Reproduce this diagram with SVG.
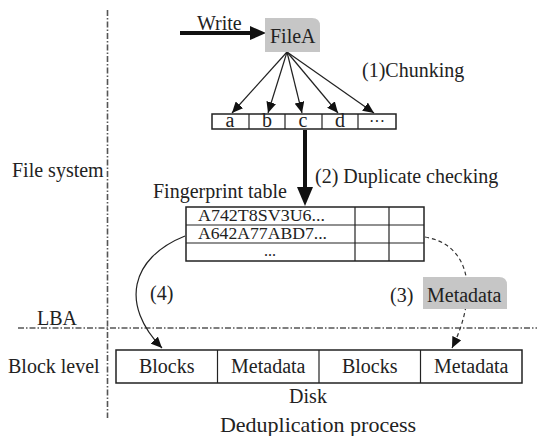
<svg xmlns="http://www.w3.org/2000/svg" width="537" height="436" viewBox="0 0 537 436">
<style>
text{font-family:"Liberation Serif","Times New Roman",serif;fill:#222;font-size:20px}
.t16{font-size:16px}
.mid{text-anchor:middle}
.box{fill:#fff;stroke:#222;stroke-width:1.5}
.ln{fill:none;stroke:#222;stroke-width:1.2}
.dash{fill:none;stroke:#333;stroke-width:1.2;stroke-dasharray:4 3}
.dd{fill:none;stroke:#555;stroke-width:1.6;stroke-dasharray:6 2 1.5 2}
.gray{fill:#c6c6c6}
</style>
<defs>
<marker id="ah" markerUnits="userSpaceOnUse" markerWidth="12" markerHeight="10" refX="11" refY="5" orient="auto"><path d="M0,0 L11,5 L0,10 z" fill="#111"/></marker>
</defs>
<g id="axes">
<line class="dd" x1="107.5" y1="10" x2="107.5" y2="418"/>
<line class="dd" x1="18" y1="328" x2="537" y2="328"/>
</g>
<g id="labels">
<text x="12" y="177">File system</text>
<text x="37" y="325">LBA</text>
<text x="8" y="373">Block level</text>
<text x="197" y="30">Write</text>
<text x="362" y="77">(1)Chunking</text>
<text x="315" y="183">(2) Duplicate checking</text>
<text x="150" y="300">(4)</text>
<text x="390" y="302">(3)</text>
<text class="mid" x="308" y="403">Disk</text>
<text class="mid" x="318" y="432" style="font-size:22px">Deduplication process</text>
</g>
<g id="connectors">
<line x1="180" y1="33" x2="252" y2="33" stroke="#111" stroke-width="4"/>
<polygon points="250,26 266,33 250,40" fill="#111"/>
<line class="ln" x1="287" y1="52" x2="232" y2="113" marker-end="url(#ah)"/>
<line class="ln" x1="287" y1="52" x2="268" y2="113" marker-end="url(#ah)"/>
<line class="ln" x1="287" y1="52" x2="302" y2="113" marker-end="url(#ah)"/>
<line class="ln" x1="287" y1="52" x2="338" y2="113" marker-end="url(#ah)"/>
<line class="ln" x1="287" y1="52" x2="374" y2="113" marker-end="url(#ah)"/>
<line x1="305" y1="130" x2="305" y2="190" stroke="#111" stroke-width="4"/>
<polygon points="297,187 305,206 313,187" fill="#111"/>
<path class="ln" d="M185,236 C130,258 120,305 162,348" marker-end="url(#ah)"/>
<path class="dash" d="M425,237 C472,245 478,295 452,348" marker-end="url(#ah)"/>
</g>
<g id="fileA">
<path class="gray" d="M265,18 H312 Q320,18 320,26 V52 H265 Z"/>
<text x="270" y="43">FileA</text>
</g>
<g id="chunks">
<rect class="box" x="212" y="114" width="184" height="15"/>
<line class="ln" x1="249" y1="114" x2="249" y2="129"/>
<line class="ln" x1="285" y1="114" x2="285" y2="129"/>
<line class="ln" x1="322" y1="114" x2="322" y2="129"/>
<line class="ln" x1="358" y1="114" x2="358" y2="129"/>
<text class="mid" x="230" y="127">a</text>
<text class="mid" x="267" y="127">b</text>
<text class="mid" x="303" y="127">c</text>
<text class="mid" x="340" y="127">d</text>
<text class="mid t16" x="377" y="127">···</text>
</g>
<g id="fingerprint-table">
<text x="153" y="198">Fingerprint table</text>
<rect class="box" x="186" y="207" width="238" height="54"/>
<line class="ln" x1="186" y1="225" x2="424" y2="225"/>
<line class="ln" x1="186" y1="243" x2="424" y2="243"/>
<line class="ln" x1="355" y1="207" x2="355" y2="261"/>
<line class="ln" x1="389" y1="207" x2="389" y2="261"/>
<text class="t16" x="198" y="221" textLength="127" lengthAdjust="spacingAndGlyphs">A742T8SV3U6...</text>
<text class="t16" x="198" y="239" textLength="129" lengthAdjust="spacingAndGlyphs">A642A77ABD7...</text>
<text class="t16 mid" x="270" y="256">...</text>
</g>
<g id="metadata-label">
<path class="gray" d="M423,277 H499 Q507,277 507,285 V309 H423 Z"/>
<text x="427" y="302">Metadata</text>
</g>
<g id="disk">
<rect class="box" x="116" y="350" width="406" height="33"/>
<line class="ln" x1="217.5" y1="350" x2="217.5" y2="383"/>
<line class="ln" x1="319" y1="350" x2="319" y2="383"/>
<line class="ln" x1="420.5" y1="350" x2="420.5" y2="383"/>
<text class="mid" x="166.75" y="373">Blocks</text>
<text class="mid" x="268.25" y="373">Metadata</text>
<text class="mid" x="369.75" y="373">Blocks</text>
<text class="mid" x="471.25" y="373">Metadata</text>
</g>
</svg>
